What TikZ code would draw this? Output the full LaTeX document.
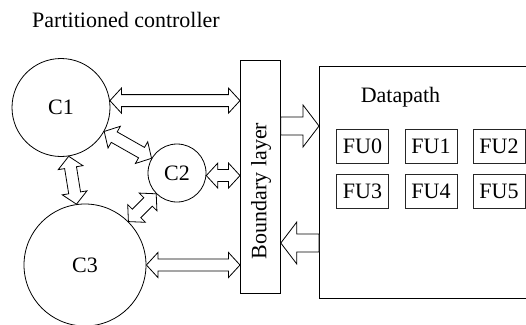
\documentclass[tikz,border=0pt]{standalone}
\usepackage{fontspec}
\setmainfont{Liberation Serif}
\usetikzlibrary{calc}

\tikzset{
  lbl/.style={font=\fontsize{22}{26}\selectfont, inner sep=0pt},
  ctrl/.style={circle, draw, line width=0.8pt, inner sep=0pt},
  box/.style={rectangle, draw, line width=0.8pt, inner sep=0pt},
  fu/.style={rectangle, draw=black!85, line width=0.8pt, inner sep=0pt,
             minimum width=52pt, minimum height=34pt,
             font=\fontsize{22}{26}\selectfont},
  arr/.style={draw, fill=white, line width=0.8pt, line join=miter}
}

% hollow double-headed arrow between two points
% shaft half width 6pt, head half width 12.5pt, head length 11.5pt
\newcommand\twoway[2]{%
  \path[arr] (#1)
    -- ($(#1)!11.5pt!(#2)!12.5pt!90:(#2)$)
    -- ($(#1)!11.5pt!(#2)!6pt!90:(#2)$)
    -- ($(#2)!11.5pt!(#1)!6pt!-90:(#1)$)
    -- ($(#2)!11.5pt!(#1)!12.5pt!-90:(#1)$)
    -- (#2)
    -- ($(#2)!11.5pt!(#1)!12.5pt!90:(#1)$)
    -- ($(#2)!11.5pt!(#1)!6pt!90:(#1)$)
    -- ($(#1)!11.5pt!(#2)!6pt!-90:(#2)$)
    -- ($(#1)!11.5pt!(#2)!12.5pt!-90:(#2)$)
    -- cycle;}

% hollow single-headed arrow, wide variant
\newcommand\oneway[2]{%
  \path[arr] ($(#1)!9pt!90:(#2)$)
    -- ($(#2)!16pt!(#1)!9pt!-90:(#1)$)
    -- ($(#2)!16pt!(#1)!21pt!-90:(#1)$)
    -- (#2)
    -- ($(#2)!16pt!(#1)!21pt!90:(#1)$)
    -- ($(#2)!16pt!(#1)!9pt!90:(#1)$)
    -- ($(#1)!9pt!-90:(#2)$)
    -- cycle;}

\begin{document}
\begin{tikzpicture}[x=1pt, y=-1pt]
  \useasboundingbox (0,0) rectangle (526,324);
  \clip (0,0) rectangle (526,324);

  % title
  \node[lbl, anchor=base] (title) at (126,27) {Partitioned controller};

  % controller partitions
  \node[ctrl, minimum size=98pt]  (C1) at (61,107.5) {};
  \node[ctrl, minimum size=58pt]  (C2) at (177,173) {};
  \node[ctrl, minimum size=122pt] (C3) at (85,265) {};
  \node[lbl] at (C1) {C1};
  \node[lbl] at (C2) {C2};
  \node[lbl] at (C3) {C3};

  % boundary layer
  \node[box, minimum width=40pt, minimum height=233pt, anchor=north west] (B) at (240,60) {};
  \node[lbl, rotate=90] (blabel) at (261,191) {Boundary layer};

  % datapath with functional units
  \node[box, minimum width=230pt, minimum height=232pt, anchor=north west] (DP) at (319,66) {};
  \node[lbl, anchor=base] (dplabel) at (400.5,102) {Datapath};
  \node[fu] (FU0) at (362.5,146) {FU0};
  \node[fu] (FU1) at (431,146)   {FU1};
  \node[fu] (FU2) at (499,146)   {FU2};
  \node[fu] (FU3) at (362.5,191) {FU3};
  \node[fu] (FU4) at (431,191)   {FU4};
  \node[fu] (FU5) at (499,191)   {FU5};

  % attachment points on the border of each controller
  \path let \p1=(C1.center), \p2=(C2.center), \n1={atan2(\y2-\y1,\x2-\x1)}, \n2={\n1+180}
    in coordinate (c12) at (C1.\n1) coordinate (c21) at (C2.\n2);
  \path let \p1=(C1.center), \p2=(C3.center), \n1={atan2(\y2-\y1,\x2-\x1)}, \n2={\n1+180}
    in coordinate (c13) at (C1.\n1) coordinate (c31) at (C3.\n2);
  \path let \p1=(C2.center), \p2=(C3.center), \n1={atan2(\y2-\y1,\x2-\x1)}, \n2={\n1+180}
    in coordinate (c23) at (C2.\n1) coordinate (c32) at (C3.\n2);
  \coordinate (c1b) at (C1.8);
  \coordinate (c2b) at (C2.-5);
  \coordinate (c3b) at (C3.east);
  \coordinate (bout) at (B.east |- 0,126);
  \coordinate (dout) at (DP.west |- 0,243);

  % controller links
  \twoway{c12}{c21}
  \twoway{c13}{c31}
  \twoway{c23}{c32}
  \twoway{c1b}{c1b -| B.west}
  \twoway{c2b}{c2b -| B.west}
  \twoway{c3b}{c3b -| B.west}

  % boundary layer <-> datapath
  \oneway{bout}{bout -| DP.west}
  \oneway{dout}{dout -| B.east}
\end{tikzpicture}
\end{document}
